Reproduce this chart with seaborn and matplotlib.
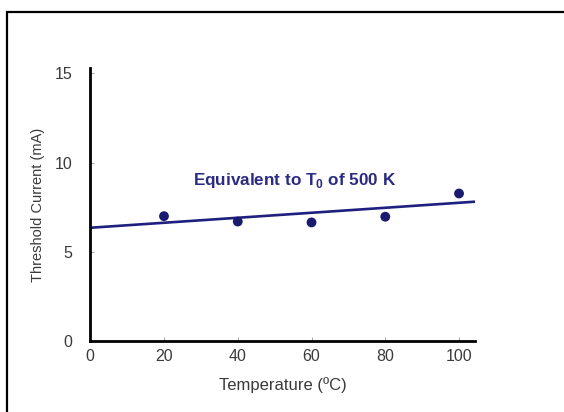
import numpy as np
import pandas as pd
import matplotlib
matplotlib.use("Agg")
import matplotlib.pyplot as plt
from matplotlib.patches import Rectangle
import seaborn as sns

# Measured threshold current vs temperature
temperature = [20, 40, 60, 80, 100]
threshold_ma = [7.0, 6.7, 6.65, 6.97, 8.27]

# Fitted line (T0 = 500 K), endpoints
fit_temp = [0, 105]
fit_current = [6.35, 7.82]

x_ticks = [0, 20, 40, 60, 80, 100]
y_ticks = [0, 5, 10, 15]

sns.set_style("ticks")
plt.rcParams["font.family"] = ["Liberation Sans", "DejaVu Sans"]

navy = "#1f1f80"

fig = plt.figure(figsize=(5.64, 4.12), dpi=100)
ax = fig.add_axes([0.160, 0.172, 0.682, 0.663])

df = pd.DataFrame({"temp": temperature, "ith": threshold_ma})
fit = pd.DataFrame({"temp": fit_temp, "ith": fit_current})

sns.lineplot(data=fit, x="temp", y="ith", color=navy, linewidth=1.9, ax=ax)
sns.scatterplot(data=df, x="temp", y="ith", color="#1a1a70", s=50,
                edgecolor="none", ax=ax, zorder=5)

ax.text(55.5, 9.0, r"Equivalent to T$_\mathregular{0}$ of 500 K", color="#2b2b82",
        fontsize=12.3, fontweight="bold", ha="center", va="center")

ax.set_xlim(0, 104.3)
ax.set_ylim(0, 15.3)
ax.set_xticks(x_ticks)
ax.set_yticks(y_ticks)
ax.tick_params(direction="in", length=3, width=0.8, color="#aaaaaa",
               labelsize=11.5, labelcolor="#3a3a3a")
ax.tick_params(axis="x", pad=6)
ax.tick_params(axis="y", pad=13)
ax.set_xlabel("Temperature (ºC)", fontsize=12, color="#3a3a3a", labelpad=9)
ax.set_ylabel("Threshold Current (mA)", fontsize=10.5, color="#3a3a3a", labelpad=7)

for side in ["top", "right"]:
    ax.spines[side].set_visible(False)
for side in ["left", "bottom"]:
    ax.spines[side].set_linewidth(2)
    ax.spines[side].set_color("black")

# outer frame of the slide
fig.patches.append(Rectangle((7 / 564, -0.1), 1.2, 1.1 - 12 / 412,
                             transform=fig.transFigure, fill=False,
                             edgecolor="black", linewidth=1.6))

fig.savefig("out.png", dpi=100)
